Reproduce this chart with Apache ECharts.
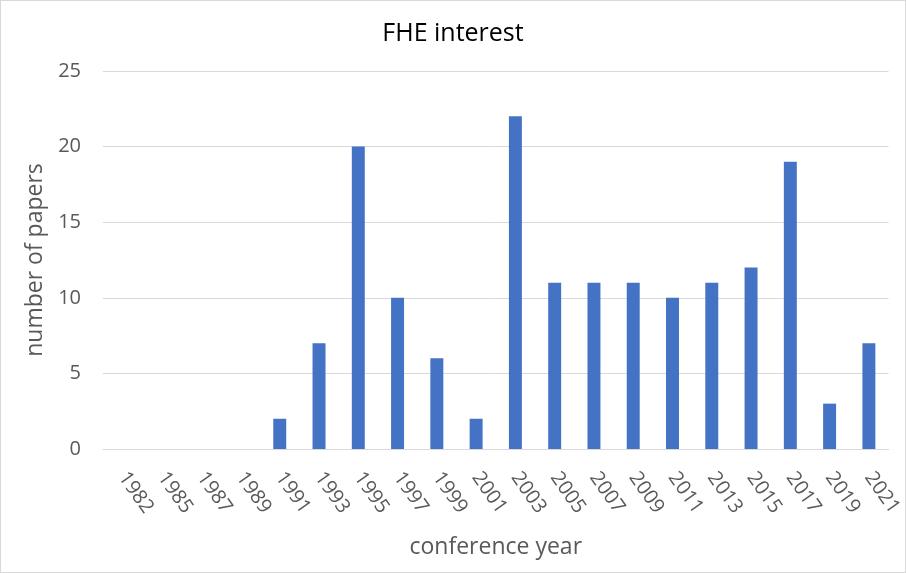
<!DOCTYPE html>
<html><head><meta charset="utf-8">
<script src="https://cdn.jsdelivr.net/npm/echarts@6/dist/echarts.min.js"></script>
<style>html,body{margin:0;padding:0;background:#fff}#c{width:906px;height:573px;box-sizing:border-box;border:1px solid #d9d9d9}</style>
</head><body><div id="c"></div>
<script>
const years = ['1982','1985','1987','1989','1991','1993','1995','1997','1999','2001','2003','2005','2007','2009','2011','2013','2015','2017','2019','2021'];
const papers = [0,0,0,0,2,7,20,10,6,2,22,11,11,11,10,11,12,19,3,7];
const chart = echarts.init(document.getElementById('c'), null, {renderer:'canvas'});
const font = 'Open Sans';
chart.setOption({
  animation:false,
  title:{text:'FHE interest',left:'center',top:15,textStyle:{fontFamily:font,fontSize:25,fontWeight:'normal',color:'#000'}},
  grid:{left:102,right:15,top:70,bottom:123,containLabel:false},
  xAxis:{type:'category',data:years,
    axisLine:{lineStyle:{color:'#d9d9d9'}},axisTick:{show:false},
    axisLabel:{rotate:-55,interval:0,fontFamily:font,fontSize:20,color:'#595959',margin:25},
    name:'conference year',nameLocation:'middle',nameGap:87,
    nameTextStyle:{fontFamily:font,fontSize:23,color:'#595959'}},
  yAxis:{type:'value',min:0,max:25,interval:5,
    axisLine:{show:false},axisTick:{show:false},
    splitLine:{lineStyle:{color:'#d9d9d9'}},
    axisLabel:{fontFamily:font,fontSize:20,color:'#595959',margin:22},
    name:'number of papers',nameLocation:'middle',nameGap:55,
    nameTextStyle:{fontFamily:font,fontSize:23,color:'#595959'}},
  series:[{type:'bar',data:papers,barWidth:'33%',itemStyle:{color:'#4472c4'}}]
});
</script></body></html>
